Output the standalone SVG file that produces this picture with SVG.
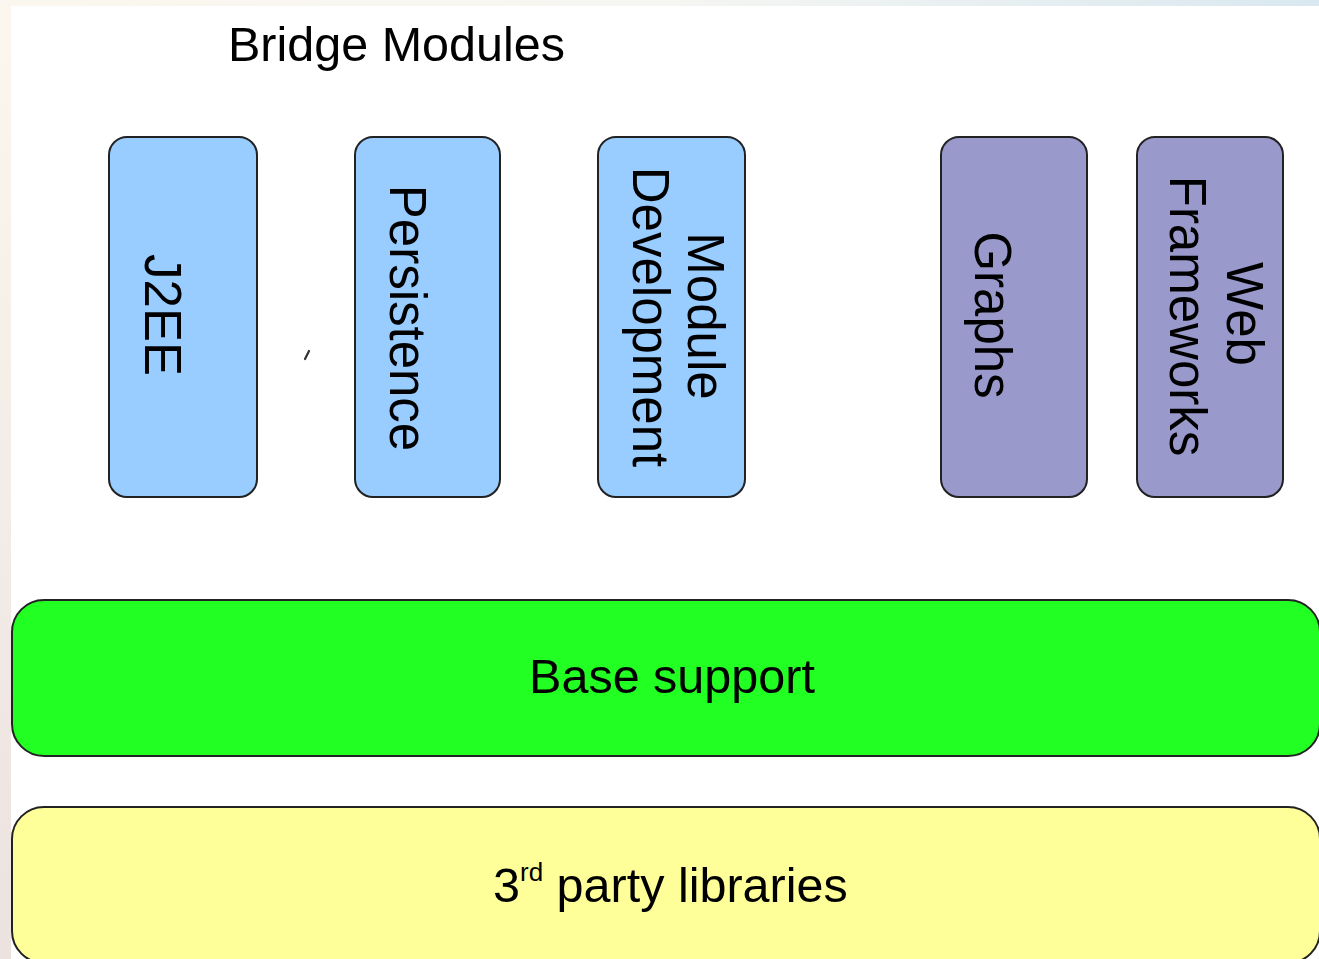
<svg xmlns="http://www.w3.org/2000/svg" width="1319" height="959" viewBox="0 0 1319 959">
<defs>
<linearGradient id="topg" x1="0" y1="0" x2="1" y2="0">
<stop offset="0" stop-color="#fbf7ee"/>
<stop offset="0.5" stop-color="#f6f6f2"/>
<stop offset="1" stop-color="#d9e8f0"/>
</linearGradient>
<linearGradient id="leftg" x1="0" y1="0" x2="0" y2="1">
<stop offset="0" stop-color="#fbf7ee"/>
<stop offset="1" stop-color="#ece2e0"/>
</linearGradient>
<style>
.t{font-family:"Liberation Sans",Arial,sans-serif;fill:#000;}
.box{stroke:#222;stroke-width:2;}
.blue{fill:#99ccff;}
.purple{fill:#9999cc;}
.vt{font-size:51px;text-anchor:middle;}
</style>
</defs>
<rect x="0" y="0" width="1319" height="959" fill="#ffffff"/>
<rect x="0" y="0" width="1319" height="6" fill="url(#topg)"/>
<rect x="0" y="0" width="11" height="959" fill="url(#leftg)"/>

<text class="t" x="228" y="61" font-size="48.5">Bridge Modules</text>

<g id="j2ee">
<rect class="box blue" x="109" y="137" width="148" height="360" rx="18"/>
<text class="t vt" transform="translate(145,315) rotate(90)">J2EE</text>
</g>
<g id="persistence">
<rect class="box blue" x="355" y="137" width="145" height="360" rx="18"/>
<text class="t vt" transform="translate(390,318) rotate(90)">Persistence</text>
</g>
<g id="module-development">
<rect class="box blue" x="598" y="137" width="147" height="360" rx="18"/>
<text class="t vt" transform="translate(688,316) rotate(90)">Module</text>
<text class="t vt" transform="translate(633,317) rotate(90)">Development</text>
</g>
<g id="graphs">
<rect class="box purple" x="941" y="137" width="146" height="360" rx="18"/>
<text class="t vt" transform="translate(975,315) rotate(90)">Graphs</text>
</g>
<g id="web-frameworks">
<rect class="box purple" x="1137" y="137" width="146" height="360" rx="18"/>
<text class="t vt" transform="translate(1227,314) rotate(90)">Web</text>
<text class="t vt" transform="translate(1170,316) rotate(90)">Frameworks</text>
</g>

<path d="M305,359 L309,351" stroke="#333" stroke-width="2.2" fill="none" stroke-linecap="round"/>

<g id="base-support">
<rect class="box" x="12" y="600" width="1308" height="156" rx="32" fill="#22ff22"/>
<text class="t" x="672" y="693" font-size="48.5" text-anchor="middle">Base support</text>
</g>
<g id="third-party">
<rect class="box" x="12" y="807" width="1308" height="156" rx="32" fill="#ffff99"/>
<text class="t" x="493" y="902" font-size="48.5">3<tspan font-size="26" dy="-21">rd</tspan><tspan dy="21" font-size="48.5"> party libraries</tspan></text>
</g>
<g id="connectors"/>
</svg>
